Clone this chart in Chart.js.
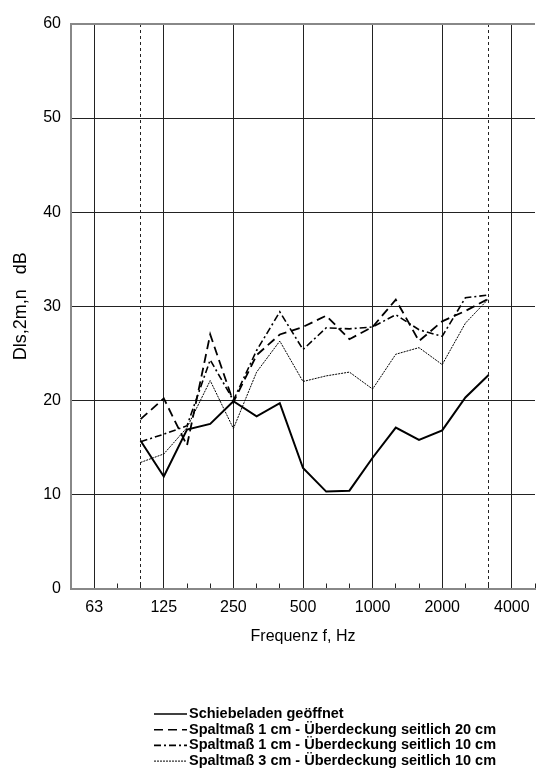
<!DOCTYPE html>
<html>
<head>
<meta charset="utf-8">
<script src="https://cdn.jsdelivr.net/npm/chart.js@4.4.1/dist/chart.umd.min.js"></script>
<style>
html, body { margin: 0; padding: 0; overflow: hidden; background: #fff; }
#wrap { position: absolute; left: 0; top: 0; width: 544px; height: 776px; }
</style>
</head>
<body>
<div id="wrap"><canvas id="myChart"></canvas></div>
<script>
// third-octave bands on the axis, 50 Hz .. 5000 Hz
const bands = ['50','63','80','100','125','160','200','250','315','400','500','630','800','1000','1250','1600','2000','2500','3150','4000','5000'];
const octaveLabels = ['63','125','250','500','1000','2000','4000'];
const limitBands = ['100','3150'];
const yTicks = [0, 10, 20, 30, 40, 50, 60];

// measured bands
const measured = ['100','125','160','200','250','315','400','500','630','800','1000','1250','1600','2000','2500','3150'];
const offen     = [15.7, 11.9, 16.9, 17.5, 19.9, 18.3, 19.7, 12.8, 10.3, 10.4, 13.9, 17.1, 15.8, 16.8, 20.3, 22.7];
const spalt1_20 = [18.0, 20.2, 15.2, 27.0, 19.8, 24.8, 27.0, 27.8, 29.0, 26.5, 27.8, 30.7, 26.3, 28.4, 29.5, 30.8];
const spalt1_10 = [15.6, 16.4, 17.3, 24.3, 20.0, 25.3, 29.4, 25.4, 27.7, 27.6, 27.8, 29.1, 27.5, 26.8, 30.9, 31.2];
const spalt3_10 = [13.4, 14.3, 17.1, 22.1, 17.0, 23.0, 26.3, 22.0, 22.6, 23.0, 21.2, 24.9, 25.6, 23.8, 28.2, 30.8];

function pts(vals) {
  return measured.map((f, i) => ({ x: f, y: vals[i] }));
}

Chart.defaults.font.family = "'Liberation Sans', Arial, sans-serif";
Chart.defaults.color = '#000';

// legend drawn as a list under the plot
const legendLines = {
  id: 'legendLines',
  afterDraw(chart) {
    const ctx = chart.ctx;
    ctx.save();
    ctx.font = "bold 14.5px 'Liberation Sans', Arial, sans-serif";
    ctx.textBaseline = 'middle';
    ctx.fillStyle = '#000';
    chart.data.datasets.forEach((ds, i) => {
      const y = 714 + i * 15.7;
      ctx.beginPath();
      ctx.setLineDash(ds.borderDash || []);
      ctx.lineWidth = Math.min(ds.borderWidth, 1.6);
      ctx.strokeStyle = ds.borderColor;
      ctx.moveTo(154, y);
      ctx.lineTo(187, y);
      ctx.stroke();
      ctx.fillText(ds.label, 189, y);
    });
    ctx.restore();
  }
};

const ctx = document.getElementById('myChart');
new Chart(ctx, {
  type: 'line',
  data: {
    labels: bands,
    datasets: [{
      label: 'Schiebeladen geöffnet',
      data: pts(offen),
      borderColor: '#000',
      borderWidth: 2,
      borderDash: []
    }, {
      label: 'Spaltmaß 1 cm - Überdeckung seitlich 20 cm',
      data: pts(spalt1_20),
      borderColor: '#000',
      borderWidth: 1.8,
      borderDash: [9, 5]
    }, {
      label: 'Spaltmaß 1 cm - Überdeckung seitlich 10 cm',
      data: pts(spalt1_10),
      borderColor: '#000',
      borderWidth: 1.6,
      borderDash: [7, 3, 2, 3]
    }, {
      label: 'Spaltmaß 3 cm - Überdeckung seitlich 10 cm',
      data: pts(spalt3_10),
      borderColor: '#000',
      borderWidth: 1,
      borderDash: [2, 1]
    }]
  },
  options: {
    responsive: true,
    maintainAspectRatio: false,
    animation: false,
    elements: {
      point: { radius: 0 },
      line: { tension: 0, fill: false }
    },
    layout: { padding: { top: 24, bottom: 129.5, left: 0, right: 1 } },
    plugins: {
      legend: { display: false },
      tooltip: { enabled: false }
    },
    scales: {
      x: {
        type: 'category',
        labels: bands,
        position: 'bottom',
        offset: false,
        weight: 0,
        grid: {
          color: c => octaveLabels.includes(bands[c.index]) ? '#222' : 'rgba(0,0,0,0)',
          drawTicks: false
        },
        border: { color: '#888', width: 2 },
        ticks: {
          autoSkip: false,
          maxRotation: 0,
          padding: 9,
          font: { size: 16 },
          callback: (v, i) => octaveLabels.includes(bands[i]) ? bands[i] : ''
        },
        title: { display: true, text: 'Frequenz f, Hz', font: { size: 16 }, padding: 0 },
        afterFit: s => { s.height = 58; }
      },
      x2: {
        type: 'category',
        labels: bands,
        position: 'bottom',
        offset: false,
        weight: -1,
        grid: {
          color: c => limitBands.includes(bands[c.index]) ? '#222' : 'rgba(0,0,0,0)',
          drawTicks: true,
          tickLength: -5,
          tickColor: '#222',
          tickWidth: 1
        },
        border: { display: false, dash: [3, 3] },
        ticks: { display: false },
        afterFit: s => { s.height = 0; }
      },
      y: {
        type: 'linear',
        min: 0,
        max: 60,
        afterBuildTicks: s => { s.ticks = yTicks.map(v => ({ value: v })); },
        grid: {
          color: c => c.tick.value === 60 ? '#888' : '#222',
          lineWidth: c => c.tick.value === 60 ? 2 : 1,
          drawTicks: false
        },
        border: { color: '#888', width: 2 },
        ticks: { padding: 10, font: { size: 16 } },
        title: { display: true, text: 'Dls,2m,n   dB', font: { size: 18 }, padding: { top: 10, bottom: 0 } },
        afterFit: s => { s.width = 71; }
      }
    }
  },
  plugins: [legendLines]
});
</script>
</body>
</html>
